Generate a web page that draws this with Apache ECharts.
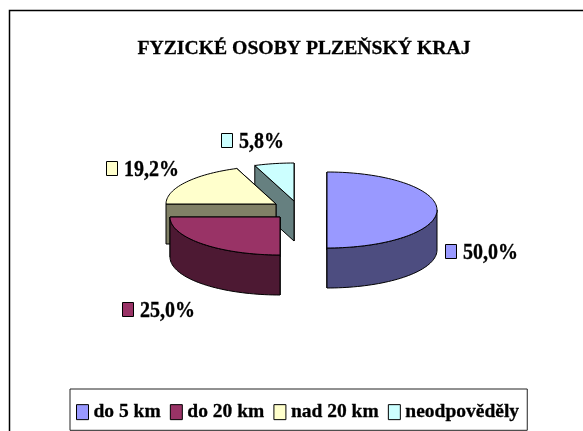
<!DOCTYPE html>
<html>
<head>
<meta charset="utf-8">
<style>html,body{margin:0;padding:0;background:#fff}#c{width:583px;height:431px}</style>
<script src="https://cdn.jsdelivr.net/npm/echarts@6/dist/echarts.min.js"></script>
</head>
<body>
<div id="c"></div>
<script>
const titleText = 'FYZICKÉ OSOBY PLZEŇSKÝ KRAJ';
const categories = ['do 5 km', 'do 20 km', 'nad 20 km', 'neodpověděly'];
const values = [50.0, 25.0, 19.2, 5.8];
const colors = ['#9999FF', '#993366', '#FFFFCC', '#CCFFFF'];
const sideColors = ['#4D4D80', '#4D1933', '#808066', '#668080'];

// layout of the tilted, exploded pie
const RX = 110, RY = 38, DEPTH = 40;
const origins = [[327, 210], [280, 217], [276, 204], [294, 201]];
const labelAnchors = [[445, 251.5], [122, 309.5], [106, 168.5], [221, 140.5]];
const SERIF = '"Liberation Serif","Times New Roman",serif';
const total = values.reduce((a, b) => a + b, 0);

function pt(o, deg, dy) {
  const r = deg * Math.PI / 180;
  return [o[0] + RX * Math.sin(r), o[1] - RY * Math.cos(r) + (dy || 0)];
}
function arcPts(o, a, b, dy) {
  const out = [];
  const n = Math.max(2, Math.ceil(Math.abs(b - a) / 2));
  for (let i = 0; i <= n; i++) out.push(pt(o, a + (b - a) * i / n, dy));
  return out;
}
function poly(points, fill) {
  return { type: 'polygon', shape: { points },
    style: { fill, stroke: '#000', lineWidth: 1, lineJoin: 'round' } };
}
function renderSlice(idx) {
  return function (params, api) {
    const v = api.value(0);
    const before = values.slice(0, idx).reduce((a, b) => a + b, 0);
    const a0 = before / total * 360, a1 = (before + v) / total * 360;
    const o = origins[idx];
    const children = [];
    // radial faces, far one first
    [a1, a0].forEach(a => {
      const p = pt(o, a, 0);
      children.push(poly([[o[0], o[1]], p, [p[0], p[1] + DEPTH], [o[0], o[1] + DEPTH]], sideColors[idx]));
    });
    // outer wall, only where it faces the viewer
    const w0 = Math.max(a0, 90), w1 = Math.min(a1, 270);
    if (w1 > w0) {
      children.push(poly(arcPts(o, w0, w1, 0).concat(arcPts(o, w1, w0, DEPTH)), sideColors[idx]));
    }
    // top face
    children.push(poly([[o[0], o[1]]].concat(arcPts(o, a0, a1, 0)), colors[idx]));
    // data label with key
    const la = labelAnchors[idx];
    children.push({ type: 'rect', shape: { x: la[0] + 0.5, y: la[1] - 7, width: 11, height: 14 },
      style: { fill: colors[idx], stroke: '#000', lineWidth: 1 } });
    children.push({ type: 'text', x: la[0] + 18, y: la[1] + 2, scaleY: 1.12, style: {
      x: 0, y: 0, text: v.toFixed(1).replace('.', ',') + '%',
      font: 'bold 20px ' + SERIF, fill: '#000', stroke: '#000', lineWidth: 0.3,
      textAlign: 'left', textVerticalAlign: 'middle' } });
    return { type: 'group', children };
  };
}

const drawOrder = [3, 2, 1, 0];
const chart = echarts.init(document.getElementById('c'), null, { renderer: 'canvas' });
chart.setOption({
  animation: false,
  backgroundColor: '#fff',
  title: { text: titleText, left: 299, top: 34, textAlign: 'center',
    textStyle: { fontFamily: SERIF, fontWeight: 'bold', fontSize: 19.7, color: '#000',
      textBorderColor: '#000', textBorderWidth: 0.3 } },
  legend: {
    left: 70, top: 389,
    padding: [13, 8, 8, 6], itemGap: 9, itemWidth: 12, itemHeight: 15,
    borderColor: '#222', borderWidth: 1, backgroundColor: '#fff',
    data: categories.map((name, i) => ({ name, icon: 'rect',
      itemStyle: { color: colors[i], borderColor: '#000', borderWidth: 1 } })),
    textStyle: { fontFamily: SERIF, fontWeight: 'bold', fontSize: 19.5, color: '#000',
      textBorderColor: '#000', textBorderWidth: 0.3 }
  },
  series: drawOrder.map((i, k) => ({
    type: 'custom', name: categories[i], coordinateSystem: 'none', z: 2 + k,
    itemStyle: { color: colors[i] },
    data: [[values[i]]],
    renderItem: renderSlice(i),
    silent: true
  })),
  graphic: [{ type: 'polyline', z: -1, silent: true,
    shape: { points: [[9.5, 431], [9.5, 10.5], [583, 10.5]] },
    style: { fill: null, stroke: '#000', lineWidth: 1.5 } }]
});
</script>
</body>
</html>
